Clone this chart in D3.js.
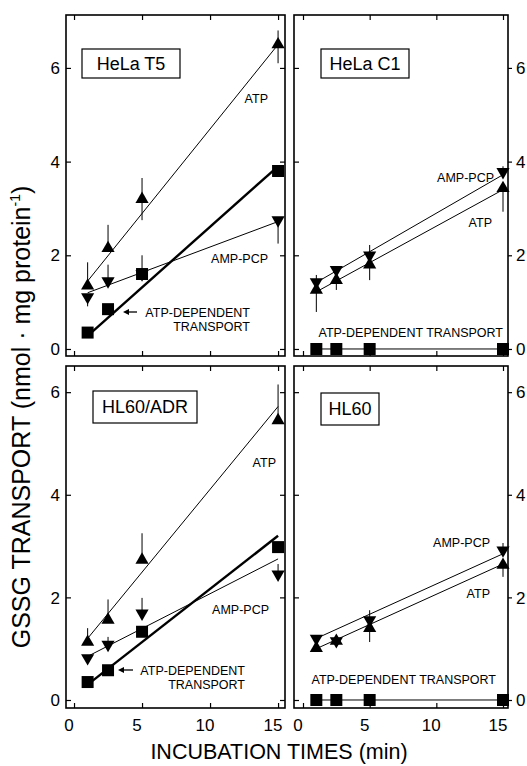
<!DOCTYPE html>
<html>
<head>
<meta charset="utf-8">
<script src="https://cdn.jsdelivr.net/npm/d3@7"></script>
<style>
  body { margin: 0; background: #fff; }
  svg { font-family: "Liberation Sans", Arial, sans-serif; }
</style>
</head>
<body>
<div id="chart-area"></div>
<script>
// incubation times (min)
var times = [1, 2.5, 5, 15];
var panelNames = ["HeLa T5", "HeLa C1", "HL60/ADR", "HL60"];
var xTicks = [0, 5, 10, 15];
var yTicks = [0, 2, 4, 6];

// ATP (triangle up)
var atpValues = [[1.35, 2.15, 3.2, 6.5], [1.26, 1.47, 1.8, 3.43], [1.13, 1.56, 2.73, 5.45], [1.01, 1.15, 1.4, 2.63]];
var atpErrUp = [[0.5, 0.5, 0.45, 0.3], [0, 0, 0, 0], [0.27, 0.4, 0.52, 0.7], [0, 0, 0, 0]];
var atpErrDown = [[0, 0, 0.45, 0.4], [0.47, 0.21, 0.33, 0.5], [0, 0, 0, 0], [0, 0, 0.27, 0.23]];
var atpFit = [[1.45, 6.5], [1.22, 3.4], [1.2, 5.72], [1.0, 2.65]];

// AMP-PCP (triangle down)
var ampValues = [[1.11, 1.45, 1.6, 2.75], [1.43, 1.69, 2.0, 3.78], [0.82, 1.08, 1.69, 2.45], [1.2, 1.15, 1.56, 2.92]];
var ampErrUp = [[0, 0.35, 0, 0], [0.15, 0, 0.22, 0.12], [0, 0.15, 0.3, 0.2], [0, 0, 0.19, 0.14]];
var ampErrDown = [[0.2, 0, 0, 0.5], [0, 0, 0, 0], [0, 0, 0, 0], [0, 0, 0, 0]];
var ampFit = [[1.2, 2.72], [1.42, 3.72], [0.85, 2.75], [1.2, 2.85]];

// ATP-dependent transport (square)
var depValues = [[0.35, 0.85, 1.6, 3.8], [0, 0, 0, 0], [0.35, 0.58, 1.33, 2.98], [0, 0, 0, 0]];
var depErrUp = [[0, 0, 0.4, 0], [0, 0, 0, 0], [0, 0, 0, 0], [0, 0, 0, 0]];
var depFit = [[0.28, 3.9], [0, 0], [0.3, 3.2], [0, 0]];

var svg = d3.select("#chart-area").append("svg")
    .attr("width", 527)
    .attr("height", 766);

// panel frames
var panels = [
  {x0: 66, x1: 285, y0: 15, y1: 356, xd: [-0.59, 15.51], yd: [-0.15, 7.13], left: true,
   box: [82, 49, 98, 29], thick: 2.4},
  {x0: 294, x1: 508, y0: 15, y1: 356, xd: [-0.675, 15.375], yd: [-0.15, 7.13], left: false,
   box: [321, 49, 88, 29], thick: 1},
  {x0: 66, x1: 285, y0: 366, y1: 708, xd: [-0.59, 15.51], yd: [-0.156, 6.51], left: true,
   box: [93, 391, 104, 32], thick: 2.4},
  {x0: 294, x1: 508, y0: 366, y1: 708, xd: [-0.675, 15.375], yd: [-0.156, 6.51], left: false,
   box: [321, 393, 58, 32], thick: 1}
];

var triSize = 75, sqSide = 12;

panels.forEach(function(p, i) {
  var x = d3.scaleLinear().domain(p.xd).range([p.x0, p.x1]);
  var y = d3.scaleLinear().domain(p.yd).range([p.y1, p.y0]);
  var g = svg.append("g");

  // ticks on all four sides, inward
  g.append("g").attr("transform", "translate(0," + p.y1 + ")")
    .call(d3.axisBottom(x).tickValues(xTicks).tickSize(-5).tickFormat(""));
  g.append("g").attr("transform", "translate(0," + p.y0 + ")")
    .call(d3.axisTop(x).tickValues(xTicks).tickSize(-5).tickFormat(""));
  g.append("g").attr("transform", "translate(" + p.x0 + ",0)")
    .call(d3.axisLeft(y).tickValues(yTicks).tickSize(-5).tickFormat(""));
  g.append("g").attr("transform", "translate(" + p.x1 + ",0)")
    .call(d3.axisRight(y).tickValues(yTicks).tickSize(p.left ? -5 : 4).tickFormat(""));
  g.selectAll(".domain").remove();
  g.selectAll(".tick line").attr("stroke", "#000").attr("stroke-width", 1.2);

  // frame
  g.append("rect")
    .attr("x", p.x0).attr("y", p.y0)
    .attr("width", p.x1 - p.x0).attr("height", p.y1 - p.y0)
    .attr("fill", "none").attr("stroke", "#000").attr("stroke-width", 1.6);

  // y tick labels, outer side only
  g.selectAll(".ylab").data(yTicks).enter().append("text")
    .attr("x", p.left ? p.x0 - 6 : p.x1 + 8)
    .attr("y", function(d) { return y(d); })
    .attr("dy", "0.36em")
    .attr("text-anchor", p.left ? "end" : "start")
    .attr("font-size", 17)
    .text(function(d) { return d; });

  // x tick labels, bottom panels only
  if (i >= 2) {
    g.selectAll(".xlab").data(xTicks).enter().append("text")
      .attr("x", function(d) { return x(d) - 5; })
      .attr("y", 731)
      .attr("text-anchor", "middle")
      .attr("font-size", 17)
      .text(function(d) { return d; });
  }

  // cell line label box
  g.append("rect")
    .attr("x", p.box[0]).attr("y", p.box[1])
    .attr("width", p.box[2]).attr("height", p.box[3])
    .attr("fill", "#fff").attr("stroke", "#000").attr("stroke-width", 1.2);
  g.append("text")
    .attr("x", p.box[0] + p.box[2] / 2)
    .attr("y", p.box[1] + p.box[3] / 2)
    .attr("dy", "0.36em")
    .attr("text-anchor", "middle")
    .attr("font-size", 18)
    .text(panelNames[i]);

  // fitted lines
  var fits = [[depFit[i], p.thick], [atpFit[i], 1], [ampFit[i], 1]];
  fits.forEach(function(f) {
    g.append("line")
      .attr("x1", x(times[0])).attr("y1", y(f[0][0]))
      .attr("x2", x(times[3])).attr("y2", y(f[0][1]))
      .attr("stroke", "#000").attr("stroke-width", f[1]);
  });

  var series = [
    {v: depValues[i], up: depErrUp[i], dn: [0, 0, 0, 0], sym: d3.symbolSquare, size: sqSide * sqSide, rot: 0},
    {v: atpValues[i], up: atpErrUp[i], dn: atpErrDown[i], sym: d3.symbolTriangle, size: triSize, rot: 0},
    {v: ampValues[i], up: ampErrUp[i], dn: ampErrDown[i], sym: d3.symbolTriangle, size: triSize, rot: 180}
  ];

  series.forEach(function(s) {
    // error bars
    g.selectAll(null).data(times).enter().append("line")
      .attr("x1", function(d) { return x(d); })
      .attr("x2", function(d) { return x(d); })
      .attr("y1", function(d, k) { return y(s.v[k] - s.dn[k]); })
      .attr("y2", function(d, k) { return y(s.v[k] + s.up[k]); })
      .attr("stroke", "#000").attr("stroke-width", 1);
    g.selectAll(null).data(times).enter().append("path")
      .attr("d", d3.symbol().type(s.sym).size(s.size))
      .attr("transform", function(d, k) {
        return "translate(" + x(d) + "," + y(s.v[k]) + ") rotate(" + s.rot + ")";
      })
      .attr("fill", "#000");
  });
});

// annotations
var ann = svg.append("g").attr("font-size", 12.5).attr("fill", "#000");
function label(t, px, py, anchor) {
  ann.append("text").attr("x", px).attr("y", py)
    .attr("text-anchor", anchor || "start").text(t);
}
function arrow(xTip, xEnd, py) {
  ann.append("line").attr("x1", xTip + 4).attr("x2", xEnd).attr("y1", py).attr("y2", py)
    .attr("stroke", "#000").attr("stroke-width", 1.3);
  ann.append("path").attr("d", "M" + xTip + "," + py + "l6,-3l0,6z").attr("fill", "#000");
}
// HeLa T5
label("ATP", 268, 103, "end");
label("AMP-PCP", 268, 263, "end");
arrow(123, 137, 312);
label("ATP-DEPENDENT", 250, 317, "end");
label("TRANSPORT", 250, 331, "end");
// HeLa C1
label("AMP-PCP", 494, 182, "end");
label("ATP", 492, 227, "end");
label("ATP-DEPENDENT TRANSPORT", 503, 337, "end");
// HL60/ADR
label("ATP", 276, 467, "end");
label("AMP-PCP", 269, 614, "end");
arrow(118, 133, 670);
label("ATP-DEPENDENT", 245, 675, "end");
label("TRANSPORT", 245, 689, "end");
// HL60
label("AMP-PCP", 490, 547, "end");
label("ATP", 490, 598, "end");
label("ATP-DEPENDENT TRANSPORT", 496, 684, "end");

// axis titles
svg.append("text")
  .attr("x", 279).attr("y", 759)
  .attr("text-anchor", "middle")
  .attr("font-size", 21.5)
  .text("INCUBATION TIMES (min)");

var yt = svg.append("text")
  .attr("transform", "translate(30,417) rotate(-90)")
  .attr("text-anchor", "middle")
  .attr("font-size", 25);
yt.append("tspan").text("GSSG TRANSPORT (nmol \u00b7 mg protein");
yt.append("tspan").attr("font-size", 14).attr("dy", -10).text("-1");
yt.append("tspan").attr("dy", 10).text(")");
</script>
</body>
</html>
